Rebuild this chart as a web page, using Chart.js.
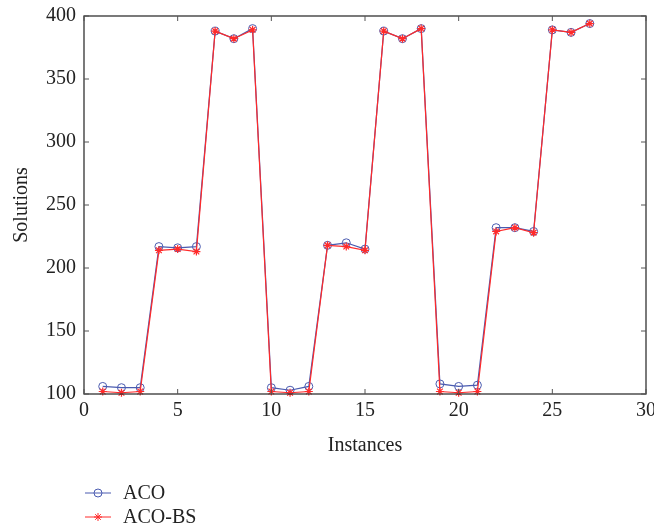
<!DOCTYPE html>
<html>
<head>
<meta charset="UTF-8">
<script src="https://cdn.jsdelivr.net/npm/chart.js"></script>
<style>
  html, body { margin: 0; padding: 0; background: #fff; }
  #wrap { width: 654px; height: 529px; position: relative; }
</style>
</head>
<body>
<div id="wrap"><canvas id="grafico"></canvas></div>
<script>
// dados
var instancias = [1,2,3,4,5,6,7,8,9,10,11,12,13,14,15,16,17,18,19,20,21,22,23,24,25,26,27];
var aco   = [106,105,105,217,216,217,388,382,390,105,103,106,218,220,215,388,382,390,108,106,107,232,232,229,389,387,394];
var acoBs = [102,101,102,214,215,213,388,382,389,102,101,102,218,217,214,388,382,390,102,101,102,229,232,228,389,387,394];
var xTicks = [0,5,10,15,20,25,30];
var yTicks = [100,150,200,250,300,350,400];
var nomes = ['ACO', 'ACO-BS'];

var azul = '#4a5bb0';
var vermelho = '#ff2a2a';
var fonte = '"Liberation Serif", "DejaVu Serif", serif';
var tam = 20;

function pontos(vals) {
  return vals.map(function (v, i) { return { x: instancias[i], y: v }; });
}

// moldura com marcas internas em todos os lados
var moldura = {
  id: 'moldura',
  afterDatasetsDraw: function (chart) {
    var ctx = chart.ctx, a = chart.chartArea;
    var sx = chart.scales.x, sy = chart.scales.y;
    ctx.save();
    ctx.strokeStyle = '#333';
    ctx.lineWidth = 1.3;
    ctx.strokeRect(a.left, a.top, a.right - a.left, a.bottom - a.top);
    ctx.lineWidth = 1;
    ctx.strokeStyle = '#555';
    var tl = 5;
    ctx.beginPath();
    xTicks.forEach(function (t) {
      var px = sx.getPixelForValue(t);
      ctx.moveTo(px, a.bottom); ctx.lineTo(px, a.bottom - tl);
      ctx.moveTo(px, a.top); ctx.lineTo(px, a.top + tl);
    });
    yTicks.forEach(function (t) {
      var py = sy.getPixelForValue(t);
      ctx.moveTo(a.left, py); ctx.lineTo(a.left + tl, py);
      ctx.moveTo(a.right, py); ctx.lineTo(a.right - tl, py);
    });
    ctx.stroke();

    // legenda
    var lx = 85, ly = 493, dy = 24;
    chart.data.datasets.forEach(function (ds, i) {
      var y = ly + i * dy;
      ctx.strokeStyle = ds.borderColor;
      ctx.lineWidth = 1;
      ctx.beginPath();
      ctx.moveTo(lx, y); ctx.lineTo(lx + 26, y);
      ctx.stroke();
      Chart.helpers.drawPoint(ctx, {
        pointStyle: ds.pointStyle, radius: ds.pointRadius,
        borderWidth: 1
      }, lx + 13, y);
      ctx.fillStyle = '#222';
      ctx.font = tam + 'px ' + fonte;
      ctx.textBaseline = 'middle';
      ctx.textAlign = 'left';
      ctx.fillText(ds.label, lx + 38, y + 1);
    });
    ctx.restore();
  }
};

new Chart(document.getElementById('grafico'), {
  type: 'line',
  data: {
    datasets: [
      {
        label: nomes[0],
        data: pontos(aco),
        borderColor: azul,
        backgroundColor: 'rgba(0,0,0,0)',
        borderWidth: 1.2,
        pointStyle: 'circle',
        pointRadius: 4,
        pointBorderColor: azul,
        pointBorderWidth: 1,
        pointBackgroundColor: 'rgba(0,0,0,0)',
        clip: false,
        order: 2
      },
      {
        label: nomes[1],
        data: pontos(acoBs),
        borderColor: vermelho,
        backgroundColor: 'rgba(0,0,0,0)',
        borderWidth: 1.2,
        pointStyle: 'star',
        pointRadius: 4,
        pointBorderColor: vermelho,
        pointBorderWidth: 1.2,
        clip: false,
        order: 1
      }
    ]
  },
  options: {
    responsive: true,
    maintainAspectRatio: false,
    animation: false,
    events: [],
    layout: { padding: { left: 0, top: 16, right: 8, bottom: 65 } },
    plugins: { legend: { display: false }, tooltip: { enabled: false } },
    scales: {
      x: {
        type: 'linear',
        min: 0, max: 30,
        afterBuildTicks: function (s) { s.ticks = xTicks.map(function (v) { return { value: v }; }); },
        afterFit: function (s) { s.height = 70; s.paddingLeft = 0; s.paddingRight = 0; },
        grid: { display: false, drawTicks: false },
        border: { display: false },
        ticks: { color: '#222', font: { family: fonte, size: tam }, padding: 5, maxRotation: 0 },
        title: { display: true, text: 'Instances', color: '#222', font: { family: fonte, size: tam }, padding: { top: 0, bottom: 6 } }
      },
      y: {
        type: 'linear',
        min: 100, max: 400,
        afterBuildTicks: function (s) { s.ticks = yTicks.map(function (v) { return { value: v }; }); },
        afterFit: function (s) { s.width = 84; s.paddingTop = 0; s.paddingBottom = 0; },
        grid: { display: false, drawTicks: false },
        border: { display: false },
        ticks: { color: '#222', font: { family: fonte, size: tam }, padding: 8 },
        title: { display: true, text: 'Solutions', color: '#222', font: { family: fonte, size: tam }, padding: { top: 10, bottom: 0 } }
      }
    }
  },
  plugins: [moldura]
});
</script>
</body>
</html>
